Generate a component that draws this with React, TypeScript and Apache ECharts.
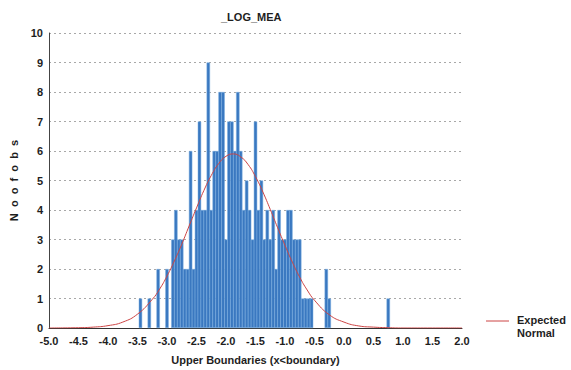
import React, { useEffect, useRef } from "react";
import * as echarts from "echarts";

// Histogram bins (bin centre, width 0.05) and counts
const binCenters = [
  -3.45, -3.3, -3.15, -3.0, -2.9, -2.85, -2.8, -2.75, -2.7, -2.65, -2.6, -2.55,
  -2.5, -2.45, -2.4, -2.35, -2.3, -2.25, -2.2, -2.15, -2.1, -2.05, -2.0, -1.95,
  -1.9, -1.85, -1.8, -1.75, -1.7, -1.65, -1.6, -1.55, -1.5, -1.45, -1.4, -1.35,
  -1.3, -1.25, -1.2, -1.15, -1.1, -1.05, -1.0, -0.95, -0.9, -0.85, -0.8, -0.75,
  -0.7, -0.65, -0.6, -0.55, -0.3, -0.25, 0.75,
];
const binCounts = [
  1, 1, 2, 2, 3, 4, 3, 3, 2, 2, 6, 2,
  4, 7, 4, 4, 9, 4, 6, 6, 8, 8, 3, 7,
  7, 6, 8, 6, 4, 5, 4, 3, 7, 4, 5, 3,
  4, 3, 4, 2, 4, 3, 3, 4, 4, 3, 3, 3,
  1, 1, 1, 1, 2, 1, 1,
];

// Expected normal curve
const curveX = [
  -5.0, -4.5, -4.25, -4.0, -3.75, -3.5, -3.25, -3.125, -3.0, -2.875, -2.75,
  -2.625, -2.5, -2.375, -2.25, -2.125, -2.0, -1.875, -1.75, -1.625, -1.5,
  -1.375, -1.25, -1.125, -1.0, -0.875, -0.75, -0.625, -0.5, -0.25, 0.0, 0.25,
  0.5, 0.75, 1.0, 1.5, 2.0,
];
const curveY = [
  0.0, 0.01, 0.03, 0.08, 0.2, 0.47, 0.97, 1.32, 1.76, 2.27, 2.84,
  3.46, 4.07, 4.66, 5.17, 5.57, 5.82, 5.9, 5.8, 5.54, 5.13,
  4.61, 4.02, 3.4, 2.8, 2.23, 1.72, 1.29, 0.94, 0.45, 0.2, 0.07,
  0.03, 0.01, 0.0, 0.0, 0.0,
];

const xTicks = { min: -5, max: 2, interval: 0.5 };
const yTicks = { min: 0, max: 10, interval: 1 };

const FONT = "'Liberation Sans', Arial, sans-serif";
const NB = "\u00a0";
const TXT = "#1e1e1e";

export default function App() {
  const ref = useRef<HTMLDivElement>(null);

  useEffect(() => {
    document.body.style.margin = "0";
    if (!ref.current) return;
    const chart = echarts.init(ref.current, undefined, { renderer: "svg" });
    const yName = ["N", "o", "o", "f", "o", "b", "s"].join(NB + " ");
    chart.setOption({
      animation: false,
      backgroundColor: "#ffffff",
      textStyle: { fontFamily: FONT },
      title: {
        text: "_LOG_MEA",
        left: 216,
        top: 6,
        textStyle: { fontSize: 11, fontWeight: "bold", color: TXT, fontFamily: FONT },
      },
      grid: { left: 48, right: 109, top: 33, bottom: 41, containLabel: false },
      xAxis: {
        type: "value",
        min: xTicks.min,
        max: xTicks.max,
        interval: xTicks.interval,
        name: "Upper Boundaries (x<boundary)",
        nameLocation: "middle",
        nameGap: 26,
        nameTextStyle: { fontSize: 11, fontWeight: "bold", color: TXT, fontFamily: FONT },
        axisLine: { show: true, onZero: false, lineStyle: { color: "#333", width: 1 } },
        axisTick: { show: false },
        splitLine: { show: false },
        axisLabel: {
          fontSize: 11,
          fontWeight: "bold",
          color: TXT,
          margin: 7,
          fontFamily: FONT,
          formatter: (v: number) => v.toFixed(1),
        },
      },
      yAxis: {
        type: "value",
        min: yTicks.min,
        max: yTicks.max,
        interval: yTicks.interval,
        name: yName,
        nameLocation: "middle",
        nameGap: 30,
        nameTextStyle: { fontSize: 11, fontWeight: "bold", color: TXT, fontFamily: FONT },
        axisLine: { show: true, onZero: false, lineStyle: { color: "#444", width: 1 } },
        axisTick: { show: false },
        axisLabel: { fontSize: 11, fontWeight: "bold", color: TXT, margin: 6, fontFamily: FONT },
        splitLine: {
          show: true,
          lineStyle: { color: "#a8a8a8", width: 1, type: [2, 3] },
        },
      },
      series: [
        {
          type: "bar",
          name: "Counts",
          data: binCenters.map((c, i) => [c, binCounts[i]]),
          barWidth: 3.4,
          itemStyle: {
            color: "#3a78c0",
            borderColor: "#7aaee0",
            borderWidth: 0.5,
          },
          z: 2,
        },
        {
          type: "line",
          name: "Expected Normal",
          data: curveX.map((x, i) => [x, curveY[i]]),
          smooth: true,
          symbol: "none",
          lineStyle: { color: "#cc4444", width: 1 },
          z: 3,
        },
      ],
      graphic: [
        {
          type: "line",
          shape: { x1: 486, y1: 321, x2: 509, y2: 321 },
          style: { stroke: "#cc4444", lineWidth: 1 },
        },
        {
          type: "text",
          x: 517,
          y: 314,
          style: { text: "Expected", fill: TXT, font: `bold 11px ${FONT}` },
        },
        {
          type: "text",
          x: 517,
          y: 327,
          style: { text: "Normal", fill: TXT, font: `bold 11px ${FONT}` },
        },
      ],
    });
    return () => chart.dispose();
  }, []);

  return <div ref={ref} style={{ width: 571, height: 370 }} />;
}
